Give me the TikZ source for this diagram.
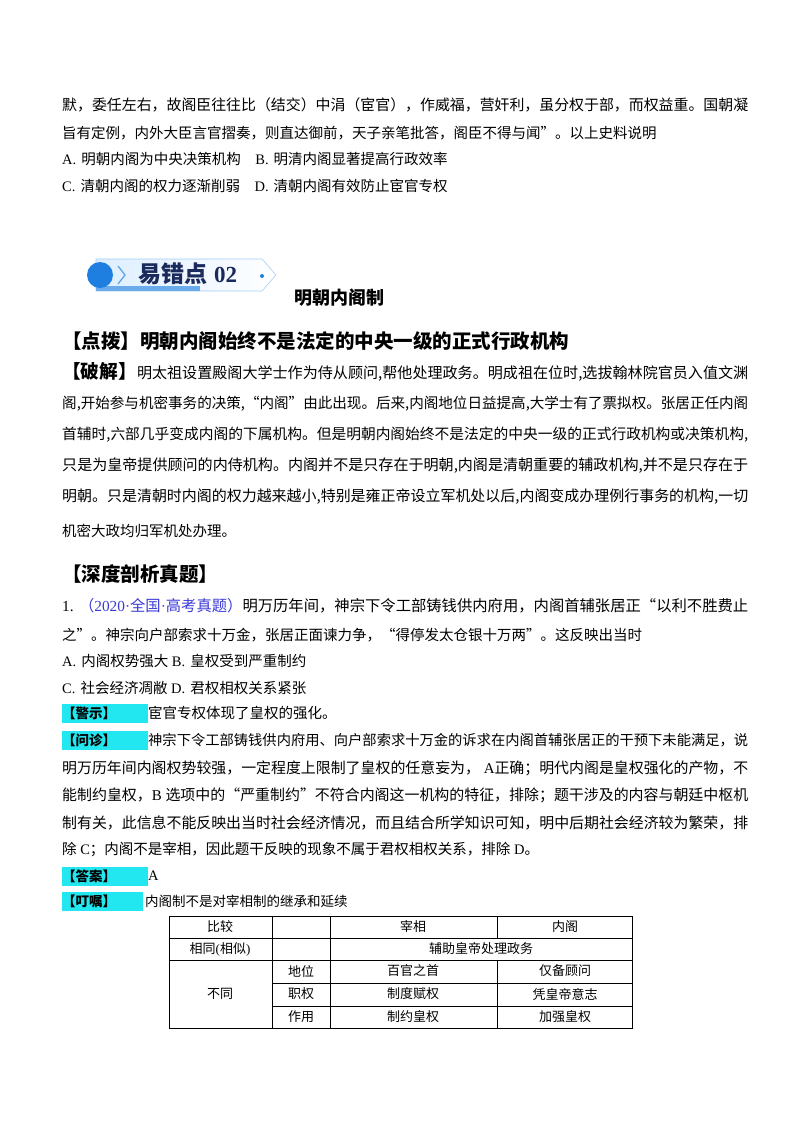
\documentclass[tikz,border=0pt]{standalone}
\usepackage{fontspec}
\setmainfont{Noto Sans CJK SC}
\newfontfamily\lat{Liberation Serif}
\usepackage{graphicx}
\definecolor{qblue}{HTML}{3B3BD6}
\definecolor{hcyan}{HTML}{22E6F0}
\definecolor{bblue}{HTML}{1E7FE0}
\definecolor{bnavy}{HTML}{1B2A5C}
\definecolor{blight}{HTML}{DDEEFF}
\newcommand{\fitw}[2]{\resizebox{#1pt}{!}{#2}}
\newcommand{\opt}[1]{{\lat #1.}\hspace{0.35em}}
\begin{document}
\begin{tikzpicture}[x=1pt,y=-1pt,
  txt/.style={anchor=west,inner sep=0pt,font=\fontsize{14.5}{14.5}\selectfont},
  cell/.style={inner sep=0pt,font=\fontsize{13}{13}\selectfont}]
\useasboundingbox (0,0) rectangle (800,1132);
\fill[white] (0,0) rectangle (800,1132);
% top
\node[txt] (l1) at (62,105) {\fitw{686}{默，委任左右，故阁臣往往比（结交）中涓（宦官），作威福，营奸利，虽分权于部，而权益重。国朝凝}};
\node[txt] (l2) at (62,133) {旨有定例，内外大臣言官摺奏，则直达御前，天子亲笔批答，阁臣不得与闻”。以上史料说明};
\node[txt] (l3) at (62,159) {\opt{A}明朝内阁为中央决策机构\quad \opt{B}明清内阁显著提高行政效率};
\node[txt] (l4) at (62,186) {\opt{C}清朝内阁的权力逐渐削弱\quad \opt{D}清朝内阁有效防止宦官专权};
% banner
\shade[left color=blight,right color=white,draw=blight!70!bblue,line width=0.6pt]
  (96,259) -- (262,259) -- (276,275) -- (262,291) -- (96,291) -- cycle;
\fill[bblue!60!blight] (96,286) rectangle (200,291);
\fill[bblue] (100,275) circle (13);
\draw[bblue!70,line width=1.3pt] (118,266) -- (125,275) -- (118,284);
\node[inner sep=0pt,anchor=west,text=bnavy,font=\fontsize{23}{23}\selectfont\bfseries] (bt) at (138,274) {易错点\hspace{0.3em}{\lat 02}};
\fill[bblue] (262,276) circle (2);
\node[inner sep=0pt,anchor=west,font=\fontsize{18}{18}\selectfont\bfseries] (bs) at (294,298) {明朝内阁制};
% dianbo
\node[txt,font=\fontsize{19.5}{19.5}\selectfont\bfseries] (db) at (62,341) {【点拨】明朝内阁始终不是法定的中央一级的正式行政机构};
\node[txt] (pj) at (62,372) {\fitw{686}{{\fontsize{18}{18}\selectfont\bfseries 【破解】}明太祖设置殿阁大学士作为侍从顾问,帮他处理政务。明成祖在位时,选拔翰林院官员入值文渊}};
\node[txt] (p2) at (62,404) {\fitw{686}{阁,开始参与机密事务的决策,“内阁”由此出现。后来,内阁地位日益提高,大学士有了票拟权。张居正任内阁}};
\node[txt] (p3) at (62,435) {\fitw{686}{首辅时,六部几乎变成内阁的下属机构。但是明朝内阁始终不是法定的中央一级的正式行政机构或决策机构,}};
\node[txt] (p4) at (62,466) {\fitw{686}{只是为皇帝提供顾问的内侍机构。内阁并不是只存在于明朝,内阁是清朝重要的辅政机构,并不是只存在于}};
\node[txt] (p5) at (62,497) {\fitw{686}{明朝。只是清朝时内阁的权力越来越小,特别是雍正帝设立军机处以后,内阁变成办理例行事务的机构,一切}};
\node[txt] (p6) at (62,531) {机密大政均归军机处办理。};
% shendu
\node[txt,font=\fontsize{19.5}{19.5}\selectfont\bfseries] (sd) at (62,574) {【深度剖析真题】};
\node[txt] (q1) at (62,606) {\fitw{686}{\opt{1}\textcolor{qblue}{（{\lat 2020·}全国{\lat ·}高考真题）}明万历年间，神宗下令工部铸钱供内府用，内阁首辅张居正“以利不胜费止}};
\node[txt] (q2) at (62,635) {之”。神宗向户部索求十万金，张居正面谏力争，“得停发太仓银十万两”。这反映出当时};
\node[txt] (q3) at (62,661) {\opt{A}内阁权势强大{\lat\ }\opt{B}皇权受到严重制约};
\node[txt] (q4) at (62,688) {\opt{C}社会经济凋敝{\lat\ }\opt{D}君权相权关系紧张};
% labels
\fill[hcyan] (62,704) rectangle (148,723);
\node[txt,font=\fontsize{13.5}{13.5}\selectfont\bfseries] (js) at (62,713) {【警示】};
\node[txt] (jst) at (148,713) {宦官专权体现了皇权的强化。};
\fill[hcyan] (62,731) rectangle (148,750);
\node[txt,font=\fontsize{13.5}{13.5}\selectfont\bfseries] (wz) at (62,740) {【问诊】};
\node[txt] (w1) at (148,740) {\fitw{600}{神宗下令工部铸钱供内府用、向户部索求十万金的诉求在内阁首辅张居正的干预下未能满足，说}};
\node[txt] (w2) at (62,768) {\fitw{686}{明万历年间内阁权势较强，一定程度上限制了皇权的任意妄为，{\lat\ A}正确；明代内阁是皇权强化的产物，不}};
\node[txt] (w3) at (62,795) {\fitw{686}{能制约皇权，{\lat B }选项中的“严重制约”不符合内阁这一机构的特征，排除；题干涉及的内容与朝廷中枢机}};
\node[txt] (w4) at (62,823) {\fitw{686}{制有关，此信息不能反映出当时社会经济情况，而且结合所学知识可知，明中后期社会经济较为繁荣，排}};
\node[txt] (w5) at (62,850) {除{\lat\ C}；内阁不是宰相，因此题干反映的现象不属于君权相权关系，排除{\lat\ D}。};
\fill[hcyan] (62,867) rectangle (148,886);
\node[txt,font=\fontsize{13.5}{13.5}\selectfont\bfseries] (da) at (62,876) {【答案】};
\node[txt] (dat) at (148,876) {\lat A};
\fill[hcyan] (62,892) rectangle (143,911);
\node[txt,font=\fontsize{13.5}{13.5}\selectfont\bfseries] (dz) at (62,901) {【叮嘱】};
\node[txt,font=\fontsize{13.5}{13.5}\selectfont] (dzt) at (145,901) {内阁制不是对宰相制的继承和延续};
% table
\draw[line width=0.7pt] (169,916) rectangle (632,1028);
\draw[line width=0.5pt] (169,938)--(632,938) (169,960)--(632,960)
  (272,983)--(632,983) (272,1006)--(632,1006)
  (272,916)--(272,1028) (330,916)--(330,1028)
  (497,916)--(497,938) (497,960)--(497,1028);
\node[cell] (c11) at (220,927) {比较};
\node[cell] (c13) at (413,927) {宰相};
\node[cell] (c14) at (565,927) {内阁};
\node[cell] (c21) at (220,949) {相同{\lat (}相似{\lat )}};
\node[cell] (c23) at (481,949) {辅助皇帝处理政务};
\node[cell] (c31) at (220,994) {不同};
\node[cell] (c32) at (301,971) {地位};
\node[cell] (c33) at (413,971) {百官之首};
\node[cell] (c34) at (565,971) {仅备顾问};
\node[cell] (c42) at (301,994) {职权};
\node[cell] (c43) at (413,994) {制度赋权};
\node[cell] (c44) at (565,994) {凭皇帝意志};
\node[cell] (c52) at (301,1017) {作用};
\node[cell] (c53) at (413,1017) {制约皇权};
\node[cell] (c54) at (565,1017) {加强皇权};
\end{tikzpicture}
\end{document}
